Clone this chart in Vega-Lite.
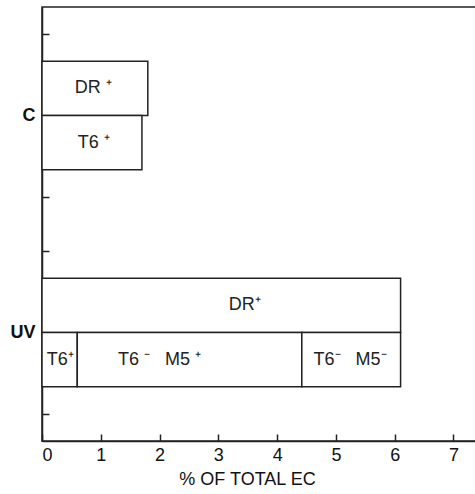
{
  "$schema": "https://vega.github.io/schema/vega-lite/v6.json",
  "autosize": "none",
  "padding": {"left": 42, "top": 7, "right": 0, "bottom": 53},
  "width": 435,
  "height": 434,
  "background": "white",
  "config": {
    "view": {"stroke": "#222", "strokeWidth": 1.5},
    "font": "Liberation Sans",
    "axis": {"domainColor": "#222", "domainWidth": 1.5, "tickColor": "#222", "tickWidth": 1.5, "labelColor": "#111", "titleColor": "#111", "grid": false}
  },
  "data": {
    "values": [
      {"group": "C", "segment": "DR+", "x0": 0, "x1": 1.8, "y0": 6, "y1": 7, "label": "DR\u00a0\u207a", "label_x": 0.87, "label_y": 6.5},
      {"group": "C", "segment": "T6+", "x0": 0, "x1": 1.7, "y0": 5, "y1": 6, "label": "T6\u00a0\u207a", "label_x": 0.88, "label_y": 5.5},
      {"group": "UV", "segment": "DR+", "x0": 0, "x1": 6.1, "y0": 2, "y1": 3, "label": "DR\u207a", "label_x": 3.45, "label_y": 2.5},
      {"group": "UV", "segment": "T6+", "x0": 0, "x1": 0.6, "y0": 1, "y1": 2, "label": "T6\u207a", "label_x": 0.31, "label_y": 1.5},
      {"group": "UV", "segment": "T6- M5+", "x0": 0.6, "x1": 4.42, "y0": 1, "y1": 2, "label": "T6\u00a0\u207b\u00a0\u00a0\u00a0M5\u00a0\u207a", "label_x": 2.0, "label_y": 1.5},
      {"group": "UV", "segment": "T6- M5-", "x0": 4.42, "x1": 6.1, "y0": 1, "y1": 2, "label": "T6\u207b\u00a0\u00a0\u00a0M5\u207b", "label_x": 5.24, "label_y": 1.5}
    ]
  },
  "layer": [
    {
      "mark": {"type": "rect", "fill": "white", "stroke": "#222", "strokeWidth": 1.5},
      "encoding": {
        "x": {
          "field": "x0", "type": "quantitative",
          "scale": {"domain": [0, 7.4], "nice": false},
          "axis": {
            "values": [0, 1, 2, 3, 4, 5, 6, 7],
            "format": "d",
            "tickSize": -7,
            "labelPadding": 12,
            "labelFontSize": 18,
            "title": "% OF TOTAL EC",
            "titleFontSize": 18,
            "titleFontWeight": "normal",
            "titlePadding": 6,
            "titleX": 205
          }
        },
        "x2": {"field": "x1"},
        "y": {
          "field": "y0", "type": "quantitative",
          "scale": {"domain": [0, 8], "nice": false},
          "axis": {
            "values": [0.5, 1.5, 2, 2.5, 3.5, 4.5, 5.5, 6, 6.5, 7.5],
            "labelExpr": "datum.value == 2 ? 'UV' : datum.value == 6 ? 'C' : ''",
            "tickOpacity": {"condition": {"test": "datum.value == 2 || datum.value == 6", "value": 0}, "value": 1},
            "tickSize": -7,
            "labelPadding": 14,
            "labelOverlap": false,
            "labelFontSize": 18,
            "labelFontWeight": "bold",
            "title": null
          }
        },
        "y2": {"field": "y1"}
      }
    },
    {
      "mark": {"type": "text", "fontSize": 18, "color": "#222", "baseline": "middle", "align": "center"},
      "encoding": {
        "x": {"field": "label_x", "type": "quantitative"},
        "y": {"field": "label_y", "type": "quantitative"},
        "text": {"field": "label"}
      }
    }
  ]
}
